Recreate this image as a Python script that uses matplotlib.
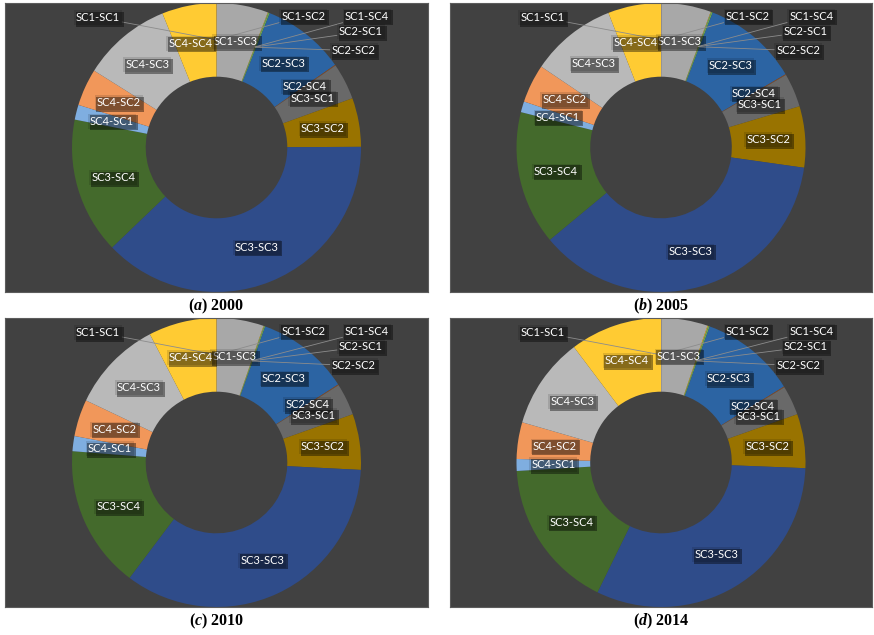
import matplotlib
matplotlib.use('Agg')
import matplotlib.pyplot as plt
import matplotlib.patheffects as pe
import numpy as np

plt.rcParams['font.family'] = ['Lato', 'DejaVu Sans']
plt.rcParams['mathtext.fontset'] = 'custom'
plt.rcParams['mathtext.bfit'] = 'Liberation Serif:italic:bold'
plt.rcParams['mathtext.rm'] = 'Liberation Serif:bold'

# flows between the four classes, share of total (%)
categories = ['SC1-SC1', 'SC1-SC2', 'SC1-SC3', 'SC1-SC4',
              'SC2-SC1', 'SC2-SC2', 'SC2-SC3', 'SC2-SC4',
              'SC3-SC1', 'SC3-SC2', 'SC3-SC3', 'SC3-SC4',
              'SC4-SC1', 'SC4-SC2', 'SC4-SC3', 'SC4-SC4']
share_2000 = [0.02, 0.02, 5.75, 0.05, 0.04, 0.14, 9.33, 0.08,
              4.08, 5.47, 38.0, 15.28, 1.67, 4.17, 10.0, 6.11]
share_2005 = [0.02, 0.02, 5.56, 0.05, 0.04, 0.14, 10.75, 0.08,
              3.78, 6.86, 36.81, 15.0, 1.22, 4.31, 9.64, 5.94]
share_2010 = [0.02, 0.02, 5.25, 0.05, 0.04, 0.11, 10.47, 0.08,
              3.58, 6.25, 34.53, 16.0, 1.69, 4.14, 10.33, 7.64]
share_2014 = [0.02, 0.02, 5.19, 0.08, 0.04, 0.14, 10.75, 0.08,
              3.31, 6.06, 31.69, 16.86, 1.33, 4.11, 10.25, 10.31]
letters = ['a', 'b', 'c', 'd']
years = ['2000', '2005', '2010', '2014']

colors = ['#4472C4', '#ED7D31', '#A8A8A8', '#FFC000',
          '#5B9BD5', '#70AD47', '#2C64A3', '#9E480E',
          '#696969', '#997300', '#2F4C8A', '#446A2C',
          '#7FAEE0', '#F1975A', '#B9B9B9', '#FFCB33']

# tiny slices get their label pulled out of the ring
outside = {'SC1-SC1': (-0.82, 0.90), 'SC1-SC2': (0.60, 0.91),
           'SC1-SC4': (1.04, 0.91), 'SC2-SC1': (1.00, 0.80),
           'SC2-SC2': (0.95, 0.67)}

W, H = 874, 635
panels = [(5, 3, 423, 289), (450, 3, 422, 289),
          (5, 318, 423, 289), (450, 318, 422, 289)]

fig = plt.figure(figsize=(W / 100, H / 100), dpi=100)
fig.patch.set_facecolor('white')

shadow = [pe.SimplePatchShadow(offset=(1.2, -1.2), shadow_rgbFace='black', alpha=0.4),
          pe.Normal()]


def label_box(t):
    t.set_bbox(dict(boxstyle='square,pad=0.18', facecolor=(0, 0, 0, 0.12),
                    edgecolor='none'))
    t.get_bbox_patch().set_path_effects(shadow)


for k, vals in enumerate([share_2000, share_2005, share_2010, share_2014]):
    x0, y0, w, h = panels[k]
    ax = fig.add_axes([x0 / W, 1 - (y0 + h) / H, w / W, h / H])

    wedges, _ = ax.pie(vals, colors=colors, startangle=90, counterclock=False,
                       radius=1.0, wedgeprops=dict(width=0.51, edgecolor='none'))
    ax.set_frame_on(True)
    ax.set_facecolor('#414141')
    for s in ax.spines.values():
        s.set_color('#5c5c5c')
        s.set_linewidth(0.8)
    ax.set_xticks([])
    ax.set_yticks([])
    ax.set_aspect('equal', adjustable='datalim')
    ax.set_xlim(-1, 1)
    ax.set_ylim(-1.0, 1.0)

    for wdg, name in zip(wedges, categories):
        mid = np.deg2rad((wdg.theta1 + wdg.theta2) / 2)
        if name == 'SC4-SC4' and vals[-1] < 7:
            # nudged left, away from the SC1-SC3 label
            mid += np.deg2rad(3)
        px, py = 0.745 * np.cos(mid), 0.745 * np.sin(mid)
        if name in outside:
            t = ax.annotate(name, xy=(px, py), xytext=outside[name],
                            color='white', fontsize=8, ha='center', va='center',
                            arrowprops=dict(arrowstyle='-', color='#8c8c8c',
                                            lw=0.6, shrinkA=0, shrinkB=0))
        else:
            t = ax.text(px, py, name, color='white', fontsize=8,
                        ha='center', va='center')
        label_box(t)

    fig.text((x0 + w / 2) / W, 1 - (y0 + h + 14) / H,
             r'($\mathbfit{%s}$) %s' % (letters[k], years[k]),
             family='Liberation Serif', weight='bold', fontsize=11.5,
             ha='center', va='center')

fig.savefig('out.png', dpi=100, facecolor='white')
